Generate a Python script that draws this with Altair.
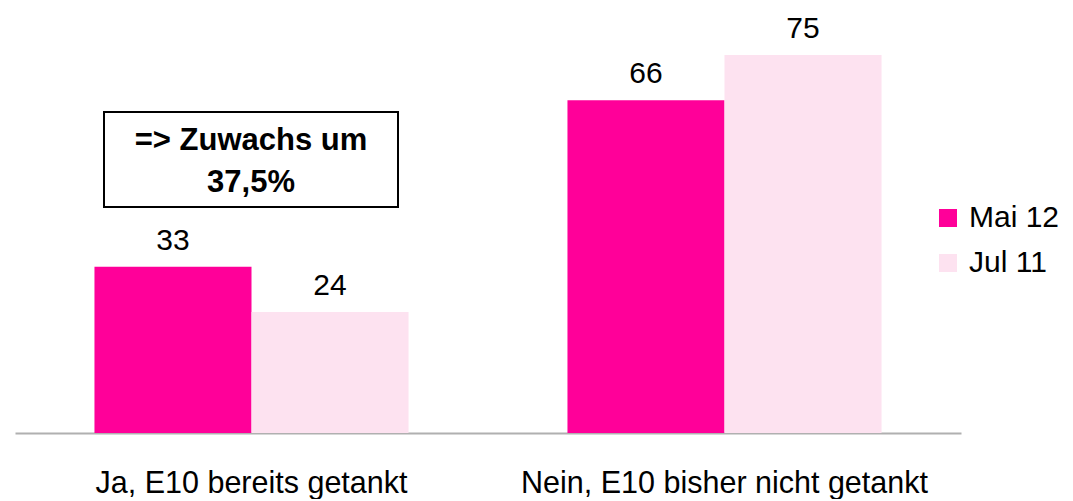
import altair as alt
import pandas as pd

categories = ["Ja, E10 bereits getankt", "Nein, E10 bisher nicht getankt"]
series = ["Mai 12", "Jul 11"]
mai_12 = [33, 66]
jul_11 = [24, 75]
colors = ["#ff0099", "#fde2f0"]
note_lines = ["=> Zuwachs um", "37,5%"]

rows = []
for c, m, j in zip(categories, mai_12, jul_11):
    rows.append({"cat": c, "series": "Mai 12", "value": m})
    rows.append({"cat": c, "series": "Jul 11", "value": j})
df = pd.DataFrame(rows)

FONT = "Liberation Sans"

base = alt.Chart(df).encode(
    x=alt.X("cat:N", sort=categories,
            scale=alt.Scale(paddingInner=0, paddingOuter=0),
            axis=alt.Axis(title=None, labelAngle=0, labelFontSize=30.5, labelFont=FONT,
                          labelColor="black", ticks=False, domainColor="#b0b0b0",
                          domainWidth=2, labelPadding=35, labelLimit=0)),
    xOffset=alt.XOffset("series:N", sort=series,
                        scale=alt.Scale(paddingOuter=0.506, paddingInner=0.0)),
    y=alt.Y("value:Q", scale=alt.Scale(domain=[0, 84.3]), axis=None),
)

bars = base.mark_bar().encode(
    color=alt.Color("series:N", sort=series,
                    scale=alt.Scale(domain=series, range=colors),
                    legend=alt.Legend(title=None, orient="none", legendX=918, legendY=195,
                                      symbolType="square", symbolSize=324,
                                      symbolStrokeWidth=0, labelFontSize=30,
                                      labelFont=FONT, labelColor="black",
                                      rowPadding=15, labelOffset=6, labelLimit=0))
)

labels = base.mark_text(dy=-17, baseline="alphabetic", fontSize=30, font=FONT,
                        color="black").encode(text="value:Q")

box = alt.Chart(pd.DataFrame({"a": [0]})).mark_rect(
    fill="white", stroke="black", strokeWidth=2
).encode(x=alt.value(89), x2=alt.value(383), y=alt.value(104), y2=alt.value(199))

note = alt.Chart(pd.DataFrame({"a": [0]})).mark_text(
    text=note_lines, fontWeight="bold", fontSize=31, font=FONT, color="black",
    lineHeight=42, baseline="middle", align="center"
).encode(x=alt.value(236), y=alt.value(133))

chart = alt.layer(bars, labels, box, note).properties(
    width=946, height=425,
    padding={"left": 7, "top": 0, "right": 0, "bottom": 0},
).configure_view(stroke=None)

chart.save("out.html", embed_options={"renderer": "svg", "actions": False})
